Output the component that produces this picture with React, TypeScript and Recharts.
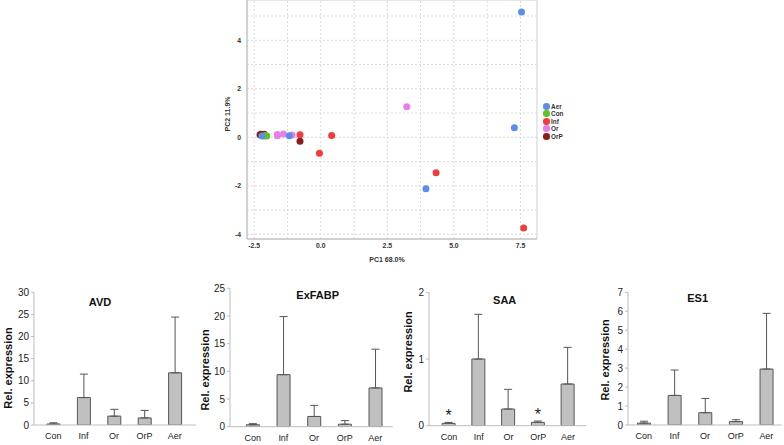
import React from 'react';
import {
  ScatterChart, Scatter, XAxis, YAxis, ReferenceLine, ReferenceArea,
  BarChart, Bar, ErrorBar, LabelList,
} from 'recharts';

const FONT = '"Liberation Sans", Arial, sans-serif';

// ---------- PCA scatter data ----------
const groupNames = ['Aer', 'Con', 'Inf', 'Or', 'OrP'];
const groupColors = ['#5b8ee6', '#5cc424', '#f03c3c', '#ea7ee6', '#8a1c1c'];

const aerPC1 = [7.54, 7.27, 3.95, -1.18, -2.21];
const aerPC2 = [5.17, 0.40, -2.12, 0.07, 0.05];
const conPC1 = [-2.03, -2.08, -2.12];
const conPC2 = [0.05, 0.08, 0.06];
const infPC1 = [7.62, 4.33, -0.05, 0.41, -0.78];
const infPC2 = [-3.74, -1.46, -0.66, 0.08, 0.11];
const orPC1 = [3.23, -1.63, -1.40, -1.08, -1.63];
const orPC2 = [1.26, 0.12, 0.14, 0.10, 0.07];
const orpPC1 = [-0.78, -2.28, -2.12, -2.20, -2.25];
const orpPC2 = [-0.16, 0.11, 0.13, 0.10, 0.13];

const pc1Ticks = [-2.5, 0, 2.5, 5, 7.5];
const pc2Ticks = [-4, -2, 0, 2, 4];
const pc1Grid = [-2.5, -1.25, 0, 1.25, 2.5, 3.75, 5, 6.25, 7.5];
const pc2Grid = [-4, -3, -2, -1, 0, 1, 2, 3, 4, 5];
const pc1Domain = [-2.77, 8.12];
const pc2Domain = [-4.19, 5.66];

const toPts = (xs: number[], ys: number[]) => xs.map((x, i) => ({ x, y: ys[i] }));

// ---------- bar chart data ----------
const categories = ['Con', 'Inf', 'Or', 'OrP', 'Aer'];

const avdMean = [0.23, 6.2, 2.0, 1.6, 11.8];
const avdErr = [0.27, 5.3, 1.55, 1.7, 12.6];
const avdTicks = [0, 5, 10, 15, 20, 25, 30];

const exfabpMean = [0.35, 9.4, 1.85, 0.45, 7.0];
const exfabpErr = [0.2, 10.5, 2.0, 0.65, 7.0];
const exfabpTicks = [0, 5, 10, 15, 20, 25];

const saaMean = [0.035, 1.0, 0.25, 0.05, 0.625];
const saaErr = [0.015, 0.67, 0.295, 0.02, 0.55];
const saaTicks = [0, 1, 2];
const saaSig = ['*', '', '', '*', ''];

const es1Mean = [0.1, 1.56, 0.65, 0.18, 2.95];
const es1Err = [0.1, 1.34, 0.75, 0.1, 2.94];
const es1Ticks = [0, 1, 2, 3, 4, 5, 6, 7];

type PanelCfg = {
  title: string;
  mean: number[];
  err: number[];
  ticks: number[];
  sig?: string[];
  left: number;
  width: number;
  mt: number;
  xh: number;
  pl: number;
  pr: number;
  titleX: number;
  titleY: number;
  labX: number;
  labY: number;
};

const panels: PanelCfg[] = [
  { title: 'AVD', mean: avdMean, err: avdErr, ticks: avdTicks, left: 0, width: 196, mt: 10.3, xh: 20, pl: 4, pr: 6, titleX: 100, titleY: 23.5, labX: 8.3, labY: 86 },
  { title: 'ExFABP', mean: exfabpMean, err: exfabpErr, ticks: exfabpTicks, left: 196.3, width: 196.7, mt: 6.3, xh: 18.3, pl: 7.4, pr: 2, titleX: 121.7, titleY: 17, labX: 8.7, labY: 88 },
  { title: 'SAA', mean: saaMean, err: saaErr, ticks: saaTicks, sig: saaSig, left: 395.3, width: 191.4, mt: 10.3, xh: 19.3, pl: 5.1, pr: 3.5, titleX: 109.7, titleY: 22.5, labX: 13, labY: 70 },
  { title: 'ES1', mean: es1Mean, err: es1Err, ticks: es1Ticks, left: 594.3, width: 187.7, mt: 10.3, xh: 20, pl: 0.5, pr: 0, titleX: 103.7, titleY: 20, labX: 10.7, labY: 78 },
];

const Dot = (color: string) => (p: any) => (
  <circle cx={p.cx} cy={p.cy} r={3.5} fill={color} />
);

function Panel({ cfg }: { cfg: PanelCfg }) {
  const data = categories.map((c, i) => ({
    cat: c,
    v: cfg.mean[i],
    e: [0, cfg.err[i]],
    sig: cfg.sig ? cfg.sig[i] : '',
  }));
  const max = cfg.ticks[cfg.ticks.length - 1];
  return (
    <div style={{ position: 'absolute', left: cfg.left, top: 282 }}>
      <BarChart width={cfg.width} height={163} data={data} margin={{ top: cfg.mt, right: 0, bottom: 0, left: 0 }}>
        <XAxis
          dataKey="cat"
          height={cfg.xh}
          tickLine={false}
          axisLine={{ stroke: '#bdbdbd' }}
          tick={{ fontSize: 9, fill: '#222', fontFamily: FONT }}
          padding={{ left: cfg.pl, right: cfg.pr }}
          interval={0}
        />
        <YAxis
          width={34}
          type="number"
          domain={[0, max]}
          ticks={cfg.ticks}
          allowDataOverflow
          tickSize={3}
          tickMargin={2}
          tickLine={{ stroke: '#bdbdbd' }}
          axisLine={{ stroke: '#bdbdbd' }}
          tick={{ fontSize: 10, fill: '#222', fontFamily: FONT }}
        />
        <Bar dataKey="v" fill="#c0c0c0" stroke="#555" strokeWidth={1} barSize={13} isAnimationActive={false}>
          <ErrorBar dataKey="e" width={4} stroke="#555" strokeWidth={1} direction="y" />
          {cfg.sig ? (
            <LabelList
              dataKey="sig"
              content={(p: any) =>
                p.value ? (
                  <text x={p.x + p.width / 2} y={p.y - 2} textAnchor="middle" fontSize={16} fontFamily={FONT} fill="#222">
                    {p.value}
                  </text>
                ) : null
              }
            />
          ) : null}
        </Bar>
        <text x={cfg.titleX} y={cfg.titleY} textAnchor="middle" fontSize={11} fontWeight="bold" fontFamily={FONT} fill="#111">
          {cfg.title}
        </text>
        <text
          x={cfg.labX}
          y={cfg.labY}
          transform={`rotate(-90, ${cfg.labX}, ${cfg.labY})`}
          textAnchor="middle"
          dominantBaseline="central"
          fontSize={11}
          fontWeight="bold"
          fontFamily={FONT}
          fill="#111"
        >
          Rel. expression
        </text>
      </BarChart>
    </div>
  );
}

export default function App() {
  const series = [
    { name: 'OrP', data: toPts(orpPC1, orpPC2), color: groupColors[4] },
    { name: 'Con', data: toPts(conPC1, conPC2), color: groupColors[1] },
    { name: 'Or', data: toPts(orPC1, orPC2), color: groupColors[3] },
    { name: 'Inf', data: toPts(infPC1, infPC2), color: groupColors[2] },
    { name: 'Aer', data: toPts(aerPC1, aerPC2), color: groupColors[0] },
  ];
  return (
    <div style={{ position: 'absolute', left: 0, top: 0, width: 784, height: 445, background: '#fff', overflow: 'hidden' }}>
      <div style={{ position: 'absolute', left: 200, top: 0 }}>
        <ScatterChart width={384} height={268} margin={{ top: 0, right: 47, bottom: 0, left: 0 }}>
          {pc1Grid.map((v) => (
            <ReferenceLine key={'vx' + v} x={v} stroke="#dadada" strokeDasharray="2 2" ifOverflow="hidden" />
          ))}
          {pc2Grid.map((v) => (
            <ReferenceLine key={'hy' + v} y={v} stroke="#dadada" strokeDasharray="2 2" ifOverflow="hidden" />
          ))}
          <ReferenceArea x1={pc1Domain[0]} x2={pc1Domain[1]} y1={pc2Domain[0]} y2={pc2Domain[1]} fill="none" stroke="#cfcfcf" strokeWidth={1} />
          <XAxis
            type="number"
            dataKey="x"
            domain={pc1Domain}
            ticks={pc1Ticks}
            allowDataOverflow
            height={29}
            tickLine={false}
            tickSize={4}
            tickMargin={0}
            axisLine={{ stroke: '#bcbcbc' }}
            tickFormatter={(v: number) => v.toFixed(1)}
            tick={{ fontSize: 6.8, fontWeight: 'bold', fill: '#333', fontFamily: FONT }}
          />
          <YAxis
            type="number"
            dataKey="y"
            domain={pc2Domain}
            ticks={pc2Ticks}
            allowDataOverflow
            width={47}
            tickLine={false}
            tickSize={6}
            tickMargin={0}
            axisLine={{ stroke: '#bcbcbc' }}
            tick={{ fontSize: 6.8, fontWeight: 'bold', fill: '#333', fontFamily: FONT }}
          />
          {series.map((s) => (
            <Scatter key={s.name} name={s.name} data={s.data} fill={s.color} shape={Dot(s.color)} isAnimationActive={false} />
          ))}
          <text x={187} y={262} textAnchor="middle" fontSize={7} fontWeight="bold" fontFamily={FONT} fill="#333">
            PC1 68.0%
          </text>
          <text x={27} y={114} transform="rotate(-90, 27, 114)" textAnchor="middle" dominantBaseline="central" fontSize={7} fontWeight="bold" fontFamily={FONT} fill="#333">
            PC2 11.9%
          </text>
        </ScatterChart>
        <div style={{ position: 'absolute', left: 343, top: 102.5, fontFamily: FONT, fontSize: 6.4, fontWeight: 'bold', color: '#333' }}>
          {groupNames.map((g, i) => (
            <div key={g} style={{ display: 'flex', alignItems: 'center', height: 7.5, lineHeight: '7.3px' }}>
              <span style={{ display: 'inline-block', width: 6.6, height: 6.6, borderRadius: '50%', background: groupColors[i], marginRight: 1.5 }} />
              <span>{g}</span>
            </div>
          ))}
        </div>
      </div>
      {panels.map((p) => (
        <Panel key={p.title} cfg={p} />
      ))}
    </div>
  );
}
